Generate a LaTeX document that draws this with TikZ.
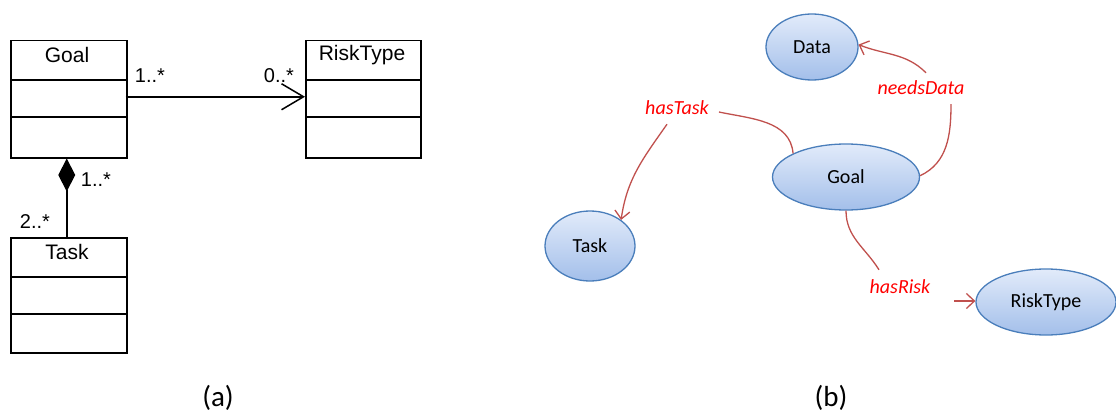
\documentclass[tikz,border=0pt]{standalone}
\usepackage{fontspec}
\setmainfont{Carlito}
\newfontfamily\umlfont{Liberation Sans}
\usetikzlibrary{arrows.meta,shapes.geometric}
\definecolor{ellborder}{HTML}{4A7EBB}
\definecolor{elltop}{HTML}{E2EBFA}
\definecolor{ellbot}{HTML}{A3BFEA}
\definecolor{edgered}{HTML}{C0504D}
\definecolor{labred}{HTML}{FF0000}
\tikzset{
  umlbox/.style={draw=black, line width=1.5pt, minimum width=116pt, minimum height=117pt, anchor=north west, inner sep=0pt},
  umltext/.style={font=\umlfont\fontsize{21}{23}\selectfont, inner sep=0pt},
  mult/.style={font=\umlfont\fontsize{20}{22}\selectfont, inner sep=0pt},
  concept/.style={ellipse, draw=ellborder, line width=1.3pt, top color=elltop, bottom color=ellbot, inner sep=0pt, font=\fontsize{20}{22}\selectfont},
  rel/.style={font=\itshape\fontsize{20}{22}\selectfont, text=labred, inner sep=1pt},
  rededge/.style={draw=edgered, line width=1.3pt},
  redarrow/.style={rededge, -{Straight Barb[length=8pt,width=15pt]}},
  caption/.style={font=\fontsize{29}{31}\selectfont, inner sep=0pt}
}
\begin{document}
\begin{tikzpicture}[x=1pt, y=-1pt]
\useasboundingbox (0,0) rectangle (1116,412);
% ---- (a) UML ----
\node[umlbox] (goalbox) at (10,40) {};
\node[umlbox, minimum width=115pt] (riskbox) at (305,40) {};
\node[umlbox, minimum height=115pt] (taskbox) at (10,237) {};
\foreach \b in {goalbox,riskbox,taskbox}{
  \draw[line width=1.5pt] ([yshift=-40pt]\b.north west) -- ([yshift=-40pt]\b.north east);
  \draw[line width=1.5pt] ([yshift=-77pt]\b.north west) -- ([yshift=-77pt]\b.north east);
}
\node[umltext] (tgoal) at (67,55) {Goal};
\node[umltext] (trisk) at (362,55) {RiskType};
\node[umltext] (ttask) at (67,252) {Task};
\draw[line width=1.5pt, -{Straight Barb[length=22pt,width=26pt]}] ([xshift=-2pt,yshift=2.5pt]goalbox.east) -- ([yshift=2.5pt]riskbox.west);
\draw[line width=1.5pt, {Diamond[length=33pt,width=17pt]}-] ([xshift=-2pt]goalbox.south) -- ([xshift=-2pt]taskbox.north);
\node[mult] (m1) at (150,76) {1..*};
\node[mult] (m2) at (279,76) {0..*};
\node[mult] (m3) at (96,180) {1..*};
\node[mult] (m4) at (35,222) {2..*};
\node[caption] (capa) at (218,398) {(a)};
% ---- (b) ontology ----
\node[concept, minimum width=92pt, minimum height=66pt] (data) at (812,47) {Data};
\node[concept, minimum width=147pt, minimum height=66pt] (goal) at (846,177) {Goal};
\node[concept, minimum width=90pt, minimum height=70pt] (task) at (590,246) {Task};
\node[concept, minimum width=140pt, minimum height=66pt] (risk) at (1046,302) {RiskType};
\node[rel] (lhastask) at (677,108) {hasTask};
\node[rel] (lneeds) at (921,88) {needsData};
\node[rel] (lrisk) at (900,287) {hasRisk};
\draw[rededge] (goal.156) to[out=95,in=-12] ([xshift=9pt,yshift=-4pt]lhastask.east);
\draw[redarrow] ([xshift=-10pt,yshift=-8pt]lhastask.south) to[out=235,in=82] (task.40);
\draw[rededge] (goal.1) to[out=25,in=-90] ([xshift=30pt,yshift=-8pt]lneeds.south);
\draw[redarrow] ([xshift=5pt,yshift=7pt]lneeds.north) to[out=135,in=-22] (data.3);
\draw[rededge] (goal.south) to[out=-90,in=122] ([xshift=-21pt,yshift=9pt]lrisk.north);
\draw[redarrow] ([xshift=-21pt,yshift=1pt]risk.west) -- ([yshift=1pt]risk.west);
\node[caption] (capb) at (831,398) {(b)};
\end{tikzpicture}
\end{document}
